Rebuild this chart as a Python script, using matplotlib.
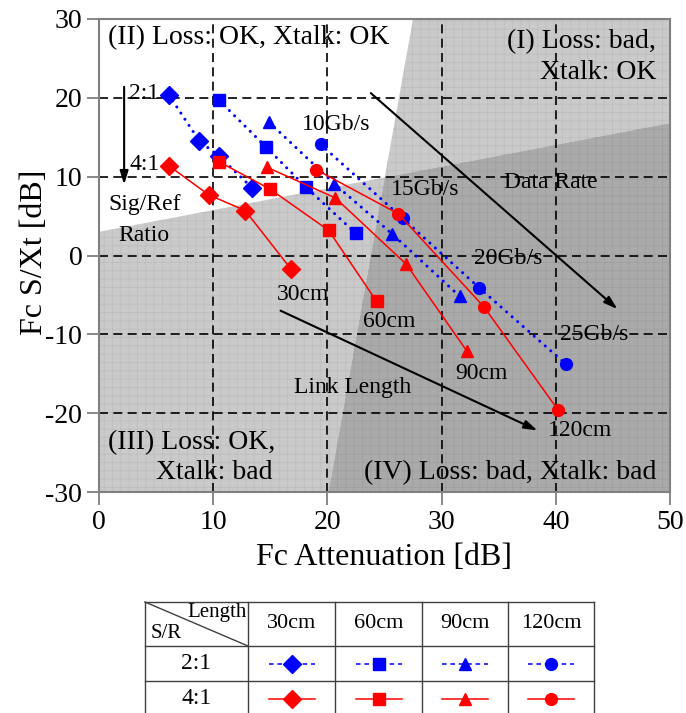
#!/usr/bin/env python3

'''Fc S/Xt vs Fc attenuation for 2:1 and 4:1 signal/reference ratios.'''

import matplotlib.pyplot as plt
from matplotlib.patches import Polygon

plt.rcParams['font.family'] = ['Liberation Serif', 'DejaVu Serif']
plt.rcParams['hatch.linewidth'] = 0.5
plt.rcParams['axes.unicode_minus'] = False

LENGTHS = ['30cm', '60cm', '90cm', '120cm']
MARKERS = ['D', 's', '^', 'o']
MARKER_SIZES = [9, 8, 9, 8.5]
RATIOS = ['2:1', '4:1']
RATES = ['10Gb/s', '15Gb/s', '20Gb/s', '25Gb/s']

# one row per link length, one column per data rate (10/15/20/25 Gb/s)
ATT_21 = [[6.1, 8.8, 10.5, 13.4],
          [10.5, 14.6, 18.1, 22.5],
          [14.9, 20.6, 25.7, 31.6],
          [19.4, 26.6, 33.3, 40.9]]
SXT_21 = [[20.4, 14.5, 12.6, 8.6],
          [19.7, 13.8, 8.7, 2.8],
          [16.9, 9.1, 2.7, -5.2],
          [14.1, 4.7, -4.1, -13.8]]
ATT_41 = [[6.1, 9.6, 12.8, 16.8],
          [10.5, 15.0, 20.1, 24.3],
          [14.7, 20.7, 26.9, 32.2],
          [19.0, 26.2, 33.7, 40.2]]
SXT_41 = [[11.4, 7.7, 5.7, -1.7],
          [11.9, 8.4, 3.2, -5.8],
          [11.2, 7.3, -1.1, -12.1],
          [10.9, 5.3, -6.5, -19.6]]

# region borders: S/Xt limit line and loss limit line
XT_LIMIT = [(0, 3.0), (50, 16.8)]
LOSS_LIMIT = [(20.1, -30), (27.5, 30)]

LIGHT = '#cacaca'
DARK = '#aaaaaa'
BLUE = '#0000ff'
RED = '#ff0000'


def intersect():
    '''Crossing point of the two limit lines.'''
    (x0, y0), (x1, y1) = XT_LIMIT
    (u0, v0), (u1, v1) = LOSS_LIMIT
    m = (y1 - y0) / (x1 - x0)
    k = (u1 - u0) / (v1 - v0)
    # x = u0 + k*(y - v0), y = y0 + m*x
    x = (u0 + k * (y0 - v0)) / (1 - k * m)
    return x, y0 + m * x


def draw_regions(ax):
    ix, iy = intersect()
    top_x = LOSS_LIMIT[1][0]
    bot_x = LOSS_LIMIT[0][0]
    left_y = XT_LIMIT[0][1]
    right_y = XT_LIMIT[1][1]
    regions = [
        ([(top_x, 30), (50, 30), (50, right_y), (ix, iy)], LIGHT, '#bcbcbc'),
        ([(0, left_y), (ix, iy), (bot_x, -30), (0, -30)], LIGHT, '#bcbcbc'),
        ([(ix, iy), (50, right_y), (50, -30), (bot_x, -30)], DARK, '#9e9e9e'),
    ]
    for pts, face, hatch_col in regions:
        ax.add_patch(Polygon(pts, closed=True, facecolor=face,
                             edgecolor=hatch_col, lw=0, hatch='++',
                             zorder=0))


def format_axis(ax):
    ax.set_xlim(0, 50)
    ax.set_ylim(-30, 30)
    ax.set_xticks(range(0, 51, 10))
    ax.set_yticks(range(-30, 31, 10))
    ax.grid(True, color='black', lw=1.2, dashes=(5.4, 3.2), zorder=1)
    ax.set_axisbelow(False)
    for spine in ax.spines.values():
        spine.set_color('#808080')
        spine.set_linewidth(1.5)
        spine.set_zorder(5)
    ax.tick_params(direction='out', length=9, width=1.3, color='#808080',
                   labelsize=20)
    ax.tick_params(axis='y', pad=3)
    ax.tick_params(axis='x', pad=4)
    ax.set_xlabel('Fc Attenuation [dB]', fontsize=23, labelpad=6)
    ax.set_ylabel('Fc S/Xt [dB]', fontsize=23)
    ax.yaxis.set_label_coords(-0.088, 0.507)


def plot_series(ax):
    for i in range(len(LENGTHS)):
        ax.plot(ATT_21[i], SXT_21[i], lw=2.2, dashes=(0.01, 2.4),
                dash_capstyle='round', color=BLUE, marker=MARKERS[i],
                ms=MARKER_SIZES[i], mec=BLUE, zorder=3)
    for i in range(len(LENGTHS)):
        ax.plot(ATT_41[i], SXT_41[i], ls='-', lw=1.1, color=RED,
                marker=MARKERS[i], ms=MARKER_SIZES[i], mec=RED, zorder=4)


def annotate(ax):
    txt = dict(fontsize=20, va='center', zorder=6)
    ax.text(0.8, 27.6, '(II) Loss: OK, Xtalk: OK', ha='left', **txt)
    ax.text(48.8, 27.1, '(I) Loss: bad,', ha='right', **txt)
    ax.text(48.8, 23.2, 'Xtalk: OK', ha='right', **txt)
    ax.text(0.8, -23.7, '(III) Loss: OK,', ha='left', **txt)
    ax.text(15.2, -27.5, 'Xtalk: bad', ha='right', **txt)
    ax.text(48.8, -27.6, '(IV) Loss: bad, Xtalk: bad', ha='right', **txt)

    small = dict(fontsize=17, va='center', zorder=6)
    ax.text(5.3, 20.5, RATIOS[0], ha='right', **small)
    ax.text(5.3, 11.5, RATIOS[1], ha='right', **small)
    ax.text(4.0, 6.5, 'Sig/Ref', ha='center', **small)
    ax.text(3.9, 2.5, 'Ratio', ha='center', **small)

    rate_pos = [(20.8, 16.6), (28.6, 8.35), (35.8, -0.4), (43.4, -10.0)]
    for label, (x, y) in zip(RATES, rate_pos):
        ax.text(x, y, label, ha='center', **small)
    ax.text(39.6, 9.3, 'Data Rate', ha='center', **small)

    len_pos = [(17.9, -4.9), (25.4, -8.4), (33.5, -15.0), (42.1, -22.2)]
    for label, (x, y) in zip(LENGTHS, len_pos):
        ax.text(x, y, label, ha='center', **small)
    ax.text(22.2, -16.8, 'Link Length', ha='center', **small)

    arrow = dict(arrowstyle='-|>,head_length=0.8,head_width=0.25',
                 color='black', lw=1.5, shrinkA=0, shrinkB=0)
    ax.annotate('', xy=(2.2, 9.0), xytext=(2.2, 21.4),
                arrowprops=arrow, zorder=6)
    ax.annotate('', xy=(45.4, -6.8), xytext=(23.8, 20.6),
                arrowprops=arrow, zorder=6)
    ax.annotate('', xy=(38.4, -22.2), xytext=(15.9, -7.0),
                arrowprops=arrow, zorder=6)


def draw_table(fig):
    '''Legend table below the plot, laid out in pixel units.'''
    tab = fig.add_axes([0, 0, 1, 113 / 713])
    tab.set_xlim(0, 686)
    tab.set_ylim(713, 600)
    tab.axis('off')

    cols = [145, 248, 335, 422, 508, 594]
    rows = [602, 646, 681, 716]
    line = dict(color='#404040', lw=1.0, clip_on=False)
    for x in cols:
        tab.plot([x, x], [rows[0], rows[-1]], **line)
    for y in rows[:-1]:
        tab.plot([cols[0], cols[-1]], [y, y], **line)
    tab.plot([cols[0], cols[1]], [rows[0], rows[1]], **line)

    tab.text(247, 612, 'Length', fontsize=15, ha='right', va='center')
    tab.text(151, 634, 'S/R', fontsize=15, ha='left', va='center')
    for j, label in enumerate(LENGTHS):
        cx = (cols[j + 1] + cols[j + 2]) / 2
        tab.text(cx, (rows[0] + rows[1]) / 2, label, fontsize=16,
                 ha='center', va='center')
    for r, ratio in enumerate(RATIOS):
        cy = (rows[r + 1] + rows[r + 2]) / 2
        tab.text((cols[0] + cols[1]) / 2, cy, ratio, fontsize=17,
                 ha='center', va='center')
        for j in range(len(LENGTHS)):
            cx = (cols[j + 1] + cols[j + 2]) / 2
            if r == 0:
                tab.plot([cx - 23, cx + 23], [cy, cy], color=BLUE, lw=1.1,
                         dashes=(3, 2.5))
                col = BLUE
            else:
                tab.plot([cx - 23, cx + 23], [cy, cy], color=RED, lw=1.1)
                col = RED
            tab.plot([cx], [cy], marker=MARKERS[j], ms=MARKER_SIZES[j],
                     color=col, mec=col)


def main():
    fig = plt.figure(figsize=(6.86, 7.13), dpi=100)
    ax = fig.add_axes([99 / 686, 1 - 492 / 713, 571 / 686, 473 / 713])
    draw_regions(ax)
    format_axis(ax)
    plot_series(ax)
    annotate(ax)
    draw_table(fig)
    fig.savefig('out.png', dpi=100)


if __name__ == '__main__':
    main()
